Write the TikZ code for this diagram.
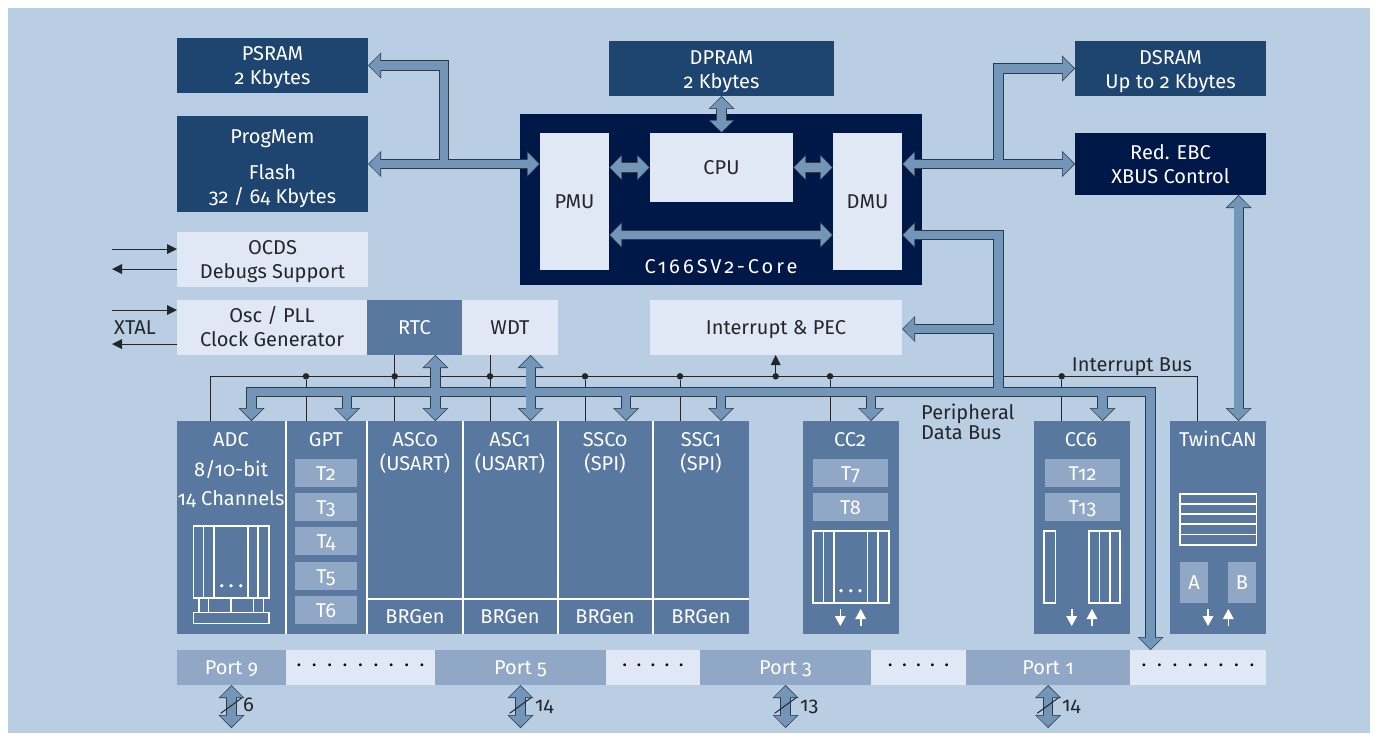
\documentclass[tikz,border=0pt]{standalone}
\usepackage{fontspec}
\setmainfont[Numbers=OldStyle]{Fira Sans}
\usetikzlibrary{arrows.meta}
\definecolor{bgblue}{HTML}{B9CEE2}
\definecolor{storeblue}{HTML}{1E4470}
\definecolor{coreblue}{HTML}{001848}
\definecolor{paleblue}{HTML}{E0E8F5}
\definecolor{blockblue}{HTML}{58789F}
\definecolor{timerblue}{HTML}{90A8C6}
\definecolor{busblue}{HTML}{7295B8}
\definecolor{busline}{HTML}{2C3A4A}
\definecolor{inkdark}{HTML}{23262B}
\newcommand{\busroutes}[1]{%
\draw[#1,->]  (progbus) to (progbus |- psram.east) to (psram.east);
\draw[#1,<->] (progmem.east) to (pmu.west |- progmem.east);
\draw[#1,<->] (dpram.south) to (cpu.north);
\draw[#1,<->] (cpu.west -| pmu.east) to (cpu.west);
\draw[#1,<->] (cpu.east) to (cpu.east -| dmu.west);
\draw[#1,<->] (corelink -| pmu.east) to (corelink -| dmu.west);
\draw[#1,<->] (ebc.west -| dmu.east) to (ebc.west);
\draw[#1,->]  (databus) to (databus |- dsram.west) to (dsram.west);
\draw[#1,->]  (perbus) to (perbus |- corelink) to (corelink -| dmu.east);
\draw[#1,->]  (perbus |- irqin) to (irqin);
\draw[#1,<->] (busadc |- adc.north) to (busadc) to (busport) to (busport |- dotsd.north);
\draw[#1,->]  (busgpt) to (busgpt |- gpt.north);
\draw[#1,<->] (busasca |- asca.north) to (busasca |- rtc.south);
\draw[#1,<->] (busascb |- ascb.north) to (busascb |- wdt.south);
\draw[#1,->]  (busspia) to (busspia |- ssca.north);
\draw[#1,->]  (busspib) to (busspib |- sscb.north);
\draw[#1,->]  (buscca) to (buscca |- cca.north);
\draw[#1,->]  (busccb) to (busccb |- ccb.north);
\draw[#1,<->] (canbus |- ebc.south) to (canbus |- twin.north);
\draw[#1,<->] (portn.south) to ([yshift=-43pt]portn.south);
\draw[#1,<->] (portf.south) to ([yshift=-43pt]portf.south);
\draw[#1,<->] (portt.south) to ([yshift=-43pt]portt.south);
\draw[#1,<->] (porto.south) to ([yshift=-43pt]porto.south);
}
\begin{document}
\begin{tikzpicture}[
   x=1pt,y=-1pt,
   font=\fontsize{20}{24}\selectfont,
   boxed/.style={anchor=north west,inner sep=0pt,outer sep=0pt,align=center},
   store/.style={boxed,fill=storeblue,text=white},
   pale/.style={boxed,fill=paleblue,text=inkdark},
   block/.style={boxed,fill=blockblue,text=white},
   timer/.style={boxed,fill=timerblue,text=white,text height=14pt,text depth=0pt},
   portbox/.style={boxed,fill=timerblue,text=white,text height=14pt,text depth=0pt},
   dotsbar/.style={boxed,fill=paleblue,text=black},
   oneline/.style={text height=14pt,text depth=0pt},
   blocktext/.style={anchor=base,inner sep=0pt,text=white},
   inktext/.style={inner sep=0pt,text=inkdark},
   junction/.style={circle,fill=inkdark,inner sep=0pt,minimum size=6.5pt},
   wire/.style={line width=1pt,draw=inkdark},
   pin/.style={->,line width=1pt,draw=inkdark,>={Triangle[length=10pt,width=10pt,line width=0pt]}},
   whitepin/.style={->,line width=1.6pt,draw=white,>={Triangle[length=10pt,width=11pt,line width=0pt]}},
   reg/.style={line width=1.6pt,draw=white},
   busedge/.style={line width=10.4pt,draw=busline,>={Triangle[length=13pt,width=26pt,line width=0pt]}},
   busfill/.style={line width=8.6pt,draw=busblue,shorten >=1.1pt,shorten <=1.1pt,>={Triangle[length=11.2pt,width=23pt,line width=0pt]}}]
\useasboundingbox (0,0) rectangle (1375,733);
\fill[white] (0,0) rectangle (1375,733);
\fill[bgblue] (8,8) rectangle (1370,733);
% memories and core
\node[store,text depth=0pt,minimum width=191pt,minimum height=55pt] (psram) at (177,38) {PSRAM\\2 Kbytes};
\node[store,text depth=0pt,minimum width=191pt,minimum height=96pt] (progmem) at (177,116) {\rule{0pt}{18.5pt}ProgMem\\[12pt]Flash\\32 / 64 Kbytes};
\node[store,text depth=0pt,minimum width=225pt,minimum height=55pt] (dpram) at (609,41) {\rule{0pt}{16.5pt}DPRAM\\2 Kbytes};
\node[store,text depth=0pt,minimum width=191pt,minimum height=55pt] (dsram) at (1075,41) {\rule{0pt}{16.5pt}DSRAM\\Up to 2 Kbytes};
\node[boxed,fill=coreblue,text=white,minimum width=191pt,minimum height=62pt] (ebc) at (1075,133) {Red. EBC\\XBUS Control};
\node[boxed,fill=coreblue,minimum width=402pt,minimum height=171pt] (core) at (520,114) {};
\node[pale,oneline,minimum width=69pt,minimum height=137pt] (pmu) at (540,133) {PMU};
\node[pale,oneline,minimum width=143pt,minimum height=69pt] (cpu) at (650,133) {CPU};
\node[pale,oneline,minimum width=69pt,minimum height=137pt] (dmu) at (833,133) {DMU};
\node[inktext,text=white,oneline] (corecap) at (721,266) {\addfontfeature{LetterSpace=15}C166SV2-Core};
\node[pale,text depth=0pt,minimum width=191pt,minimum height=55pt] (ocds) at (177,232) {OCDS\\Debugs Support};
\node[pale,text depth=2pt,minimum width=190pt,minimum height=55pt] (osc) at (177,300) {Osc / PLL\\Clock Generator};
\node[block,oneline,minimum width=95pt,minimum height=55pt] (rtc) at (367,300) {RTC};
\node[pale,oneline,minimum width=96pt,minimum height=55pt] (wdt) at (462,300) {WDT};
\node[pale,oneline,minimum width=252pt,minimum height=55pt] (irq) at (650,300) {Interrupt \& PEC};
% peripherals
\node[block,minimum width=109pt,minimum height=213pt] (adc) at (177,421) {};
\node[block,minimum width=81pt,minimum height=213pt] (gpt) at (286,421) {};
\node[block,minimum width=96pt,minimum height=213pt] (asca) at (367,421) {};
\node[block,minimum width=95pt,minimum height=213pt] (ascb) at (463,421) {};
\node[block,minimum width=95pt,minimum height=213pt] (ssca) at (558,421) {};
\node[block,minimum width=96pt,minimum height=213pt] (sscb) at (653,421) {};
\node[block,minimum width=96pt,minimum height=213pt] (cca) at (803,421) {};
\node[block,minimum width=96pt,minimum height=213pt] (ccb) at (1034,421) {};
\node[block,minimum width=96pt,minimum height=213pt] (twin) at (1170,421) {};
\draw[line width=1.2pt,white] (gpt.north west) to (gpt.south west);
\draw[line width=1.2pt,white] (asca.north west) to (asca.south west);
\draw[line width=1.2pt,white] (ascb.north west) to (ascb.south west);
\draw[line width=1.2pt,white] (ssca.north west) to (ssca.south west);
\draw[line width=1.2pt,white] (sscb.north west) to (sscb.south west);
\draw[line width=1.2pt,white] (asca.west |- 0,599) to (sscb.east |- 0,599);
\node[blocktext] (adcname) at (231,446) {ADC};
\node[blocktext] (adcbits) at (231,476) {8/10-bit};
\node[blocktext] (adcchan) at (231,505) {14 Channels};
\node[blocktext] (gptname) at (326,446) {GPT};
\node[blocktext] (ascaname) at (415,446) {ASC0};
\node[blocktext] (ascausart) at (415,470) {(USART)};
\node[blocktext] (ascbname) at (510,446) {ASC1};
\node[blocktext] (ascbusart) at (510,470) {(USART)};
\node[blocktext] (sscaname) at (605,446) {SSC0};
\node[blocktext] (sscaspi) at (605,470) {(SPI)};
\node[blocktext] (sscbname) at (701,446) {SSC1};
\node[blocktext] (sscbspi) at (701,470) {(SPI)};
\node[blocktext] (brgena) at (415,623) {BRGen};
\node[blocktext] (brgenb) at (510,623) {BRGen};
\node[blocktext] (brgenc) at (605,623) {BRGen};
\node[blocktext] (brgend) at (701,623) {BRGen};
\node[blocktext] (ccaname) at (850,446) {CC2};
\node[blocktext] (ccbname) at (1081,446) {CC6};
\node[blocktext] (twinname) at (1218,446) {TwinCAN};
% timers
\node[timer,minimum width=62pt,minimum height=28pt] (ttwo) at (295,459) {T2};
\node[timer,minimum width=62pt,minimum height=28pt] (tthree) at (295,493) {T3};
\node[timer,minimum width=62pt,minimum height=28pt] (tfour) at (295,527) {T4};
\node[timer,minimum width=62pt,minimum height=28pt] (tfive) at (295,562) {T5};
\node[timer,minimum width=62pt,minimum height=28pt] (tsix) at (295,596) {T6};
\node[timer,minimum width=75pt,minimum height=28pt] (tseven) at (813,459) {T7};
\node[timer,minimum width=75pt,minimum height=28pt] (teight) at (813,493) {T8};
\node[timer,minimum width=75pt,minimum height=28pt] (ttwelve) at (1045,459) {T12};
\node[timer,minimum width=75pt,minimum height=28pt] (tthirteen) at (1045,493) {T13};
\node[timer,minimum width=28pt,minimum height=41pt] (cana) at (1180,562) {A};
\node[timer,minimum width=28pt,minimum height=41pt] (canb) at (1228,562) {B};
% registers
\draw[reg] (193.3,525.7) rectangle (269,597.7);
\draw[reg] (203.3,525.7) to (203.3,597.7);
\draw[reg] (214,525.7) to (214,597.7);
\draw[reg] (248,525.7) to (248,597.7);
\draw[reg] (258,525.7) to (258,597.7);
\draw[reg] (193.3,612.3) rectangle (269,623.3);
\draw[reg] (198.7,597.7) to (198.7,612.3);
\draw[reg] (208.3,597.7) to (208.3,612.3);
\draw[reg] (231,597.7) to (231,612.3);
\draw[reg] (253.3,597.7) to (253.3,612.3);
\draw[reg] (263.3,597.7) to (263.3,612.3);
\fill[white] (221.7,585.7) circle (1.9pt) (231,585.7) circle (1.9pt) (240.7,585.7) circle (1.9pt);
\draw[reg] (812.7,531) rectangle (888.7,603);
\draw[reg] (823.3,531) to (823.3,603);
\draw[reg] (834,531) to (834,603);
\draw[reg] (867.3,531) to (867.3,603);
\draw[reg] (877.7,531) to (877.7,603);
\fill[white] (841,590.7) circle (1.9pt) (850.7,590.7) circle (1.9pt) (860,590.7) circle (1.9pt);
\draw[reg] (1044,531) rectangle (1055.3,603);
\draw[reg] (1088.7,531) rectangle (1120,603);
\draw[reg] (1099.3,531) to (1099.3,603);
\draw[reg] (1109.7,531) to (1109.7,603);
\draw[reg] (1180,493.7) rectangle (1256.3,545);
\draw[reg] (1180,504) to (1256.3,504);
\draw[reg] (1180,514) to (1256.3,514);
\draw[reg] (1180,524) to (1256.3,524);
\draw[reg] (1180,534.3) to (1256.3,534.3);
% pin arrows
\coordinate (ccadown) at (840.3,609);
\coordinate (ccaup) at (860.7,626);
\coordinate (ccbdown) at (1071.7,609);
\coordinate (ccbup) at (1092,626);
\coordinate (candown) at (1208,609);
\coordinate (canup) at (1228.3,626);
\draw[whitepin] (ccadown) to ++(0,17);
\draw[whitepin] (ccaup) to ++(0,-17);
\draw[whitepin] (ccbdown) to ++(0,17);
\draw[whitepin] (ccbup) to ++(0,-17);
\draw[whitepin] (candown) to ++(0,17);
\draw[whitepin] (canup) to ++(0,-17);
% ports
\node[portbox,minimum width=109pt,minimum height=35pt] (portn) at (177,650) {Port 9};
\node[dotsbar,minimum width=149pt,minimum height=35pt] (dotsa) at (286,650) {\spaceskip=10.6pt · · · · · · · · ·};
\node[portbox,minimum width=171pt,minimum height=35pt] (portf) at (435,650) {Port 5};
\node[dotsbar,minimum width=94pt,minimum height=35pt] (dotsb) at (606,650) {\spaceskip=9.3pt · · · · ·};
\node[portbox,minimum width=171pt,minimum height=35pt] (portt) at (700,650) {Port 3};
\node[dotsbar,minimum width=95pt,minimum height=35pt] (dotsc) at (871,650) {\spaceskip=9.3pt · · · · ·};
\node[portbox,minimum width=164pt,minimum height=35pt] (porto) at (966,650) {Port 1};
\node[dotsbar,minimum width=136pt,minimum height=35pt] (dotsd) at (1130,650) {\spaceskip=10.6pt · · · · · · · ·};
% outside pins
\coordinate (ocdsin) at (112,249);
\coordinate (ocdsout) at (112,269);
\coordinate (xtalin) at (112,310);
\coordinate (xtalout) at (112,344);
\draw[pin] (ocdsin) to (ocdsin -| ocds.west);
\draw[pin] (ocdsout -| ocds.west) to (ocdsout);
\draw[pin] (xtalin) to (xtalin -| osc.west);
\draw[pin] (xtalout -| osc.west) to (xtalout);
\node[inktext,anchor=west,oneline] (xtal) at (114,327) {XTAL};
% interrupt bus
\coordinate (intleft) at (210.7,376.3);
\coordinate (intright) at (1197.7,376.3);
\draw[wire] (intleft |- adc.north) to (intleft) to (intright) to (intright |- twin.north);
\node[junction] (dotgpt) at (306,376.3) {};
\node[junction] (dotrtc) at (394.7,376.3) {};
\node[junction] (dotwdt) at (490,376.3) {};
\node[junction] (dotssca) at (585,376.3) {};
\node[junction] (dotsscb) at (680,376.3) {};
\node[junction] (dotirq) at (775.7,376.3) {};
\node[junction] (dotcca) at (830,376.3) {};
\node[junction] (dotccb) at (1061.7,376.3) {};
\draw[wire] (dotgpt) to (dotgpt |- gpt.north);
\draw[wire] (dotrtc |- rtc.south) to (dotrtc |- asca.north);
\draw[wire] (dotwdt |- wdt.south) to (dotwdt |- ascb.north);
\draw[wire] (dotssca) to (dotssca |- ssca.north);
\draw[wire] (dotsscb) to (dotsscb |- sscb.north);
\draw[wire] (dotcca) to (dotcca |- cca.north);
\draw[wire] (dotccb) to (dotccb |- ccb.north);
\draw[pin] (dotirq) to (dotirq |- irq.south);
% data buses
\coordinate (progbus) at (444,164);
\coordinate (databus) at (998.5,164);
\coordinate (perbus) at (998.5,392);
\coordinate (corelink) at (721,235);
\coordinate (irqin) at ([yshift=-1.5pt]irq.east);
\coordinate (busadc) at (251.5,392);
\coordinate (busgpt) at (347,392);
\coordinate (busasca) at (435.3,392);
\coordinate (busascb) at (530.7,392);
\coordinate (busspia) at (626,392);
\coordinate (busspib) at (721,392);
\coordinate (buscca) at (871,392);
\coordinate (busccb) at (1102.5,392);
\coordinate (busport) at (1150.6,392);
\coordinate (canbus) at (1238.7,300);
\busroutes{busedge}
\busroutes{busfill}
% bus widths
\draw[wire] ([xshift=-10.8pt,yshift=-28.3pt]portn.south) to ([xshift=10.2pt,yshift=-13pt]portn.south);
\draw[wire] ([xshift=-10.8pt,yshift=-28.3pt]portf.south) to ([xshift=10.2pt,yshift=-13pt]portf.south);
\draw[wire] ([xshift=-10.8pt,yshift=-28.3pt]portt.south) to ([xshift=10.2pt,yshift=-13pt]portt.south);
\draw[wire] ([xshift=-10.8pt,yshift=-28.3pt]porto.south) to ([xshift=10.2pt,yshift=-13pt]porto.south);
\node[inktext,anchor=base west] (widthn) at (243,711) {6};
\node[inktext,anchor=base west] (widthf) at (535,711) {14};
\node[inktext,anchor=base west] (widtht) at (800,711) {13};
\node[inktext,anchor=base west] (widtho) at (1062,711) {14};
% bus names
\node[inktext,oneline] (intname) at (1132,364) {Interrupt Bus};
\node[inktext,anchor=west,align=left,font=\fontsize{20}{20}\selectfont] (pername) at (921,421.5) {Peripheral\\Data Bus};
\end{tikzpicture}
\end{document}
